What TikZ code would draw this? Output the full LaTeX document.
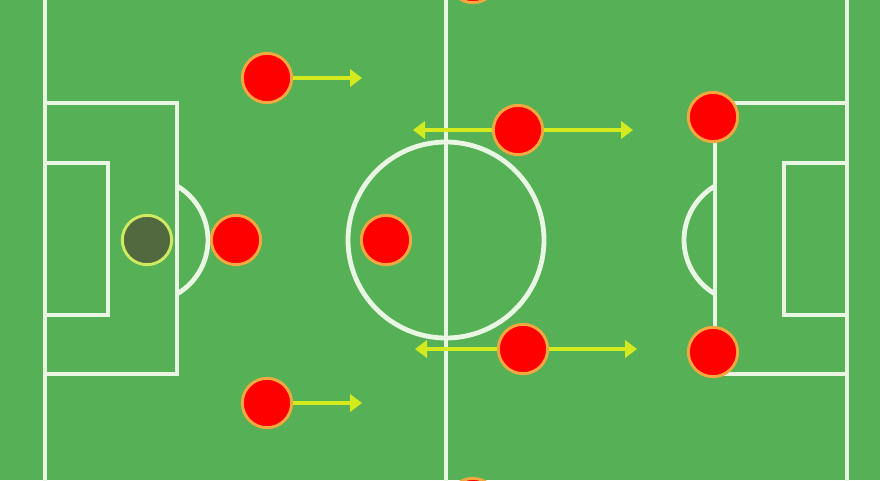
\documentclass[tikz,border=0pt]{standalone}
\usetikzlibrary{arrows.meta}

\definecolor{pitch}{RGB}{86,176,86}
\definecolor{chalk}{RGB}{234,246,228}
\definecolor{kitred}{RGB}{255,0,0}
\definecolor{kitrim}{RGB}{242,168,62}
\definecolor{keeper}{RGB}{82,104,62}
\definecolor{keeprim}{RGB}{206,234,96}
\definecolor{runarrow}{RGB}{210,234,30}

\tikzset{every picture/.style={line width=0.75pt}}
\tikzset{
  pitchline/.style={draw=chalk, line width=3.6pt},
  player/.style={circle, fill=kitred, draw=kitrim, line width=2.2pt, minimum size=37pt, inner sep=0pt},
  goalie/.style={player, fill=keeper, draw=keeprim},
  run/.style={draw=runarrow, line width=3.2pt, -{Triangle[length=9pt,width=13pt]}}
}

\begin{document}
\begin{tikzpicture}[x=0.75pt,y=0.75pt,yscale=-1,xscale=1]
  \useasboundingbox (0,0) rectangle (880,480);
  \clip (0,0) rectangle (880,480);
  %Shape: Rectangle (grass)
  \fill[pitch] (0,0) rectangle (880,480);

  %Straight Lines (touchlines and halfway)
  \draw[pitchline] (45,-10) -- (45,490);
  \draw[pitchline] (847,-10) -- (847,490);
  \draw[pitchline] (446,-10) -- (446,490);
  %Shape: Circle (centre circle)
  \draw[pitchline] (446,240) circle (98);

  %Shape: Rectangle (left penalty box, goal box, arc)
  \draw[pitchline] (45,103) -- (177,103) -- (177,374) -- (45,374);
  \draw[pitchline] (45,163) -- (108,163) -- (108,315) -- (45,315);
  \draw[pitchline] (177,186) arc[start angle=-59.7, end angle=59.7, radius=62.5];
  %Shape: Rectangle (right penalty box, goal box, arc)
  \draw[pitchline] (847,103) -- (715,103) -- (715,374) -- (847,374);
  \draw[pitchline] (847,163) -- (784,163) -- (784,315) -- (847,315);
  \draw[pitchline] (715,186) arc[start angle=239.7, end angle=120.3, radius=62.5];

  % Players
  \node[goalie] (keeper) at (147,240) {};
  \node[player] (backtop) at (267,78) {};
  \node[player] (backmid) at (236,240) {};
  \node[player] (backbot) at (267,403) {};
  \node[player] (pivot) at (386,240) {};
  \node[player] (midtop) at (518,130) {};
  \node[player] (midbot) at (523,349) {};
  \node[player] (fwdtop) at (713,117) {};
  \node[player] (fwdbot) at (713,352) {};
  \node[player] (wingtop) at (473,-22) {};
  \node[player] (wingbot) at (473,503) {};

  % Runs
  \coordinate (backtop run) at (362,78);
  \coordinate (backbot run) at (362,403);
  \coordinate (midtop back) at (413,130);
  \coordinate (midtop fwd) at (633,130);
  \coordinate (midbot back) at (415,349);
  \coordinate (midbot fwd) at (637,349);

  \draw[run] (backtop) -- (backtop run);
  \draw[run] (backbot) -- (backbot run);
  \draw[run] (midtop) -- (midtop back);
  \draw[run] (midtop) -- (midtop fwd);
  \draw[run] (midbot) -- (midbot back);
  \draw[run] (midbot) -- (midbot fwd);

\end{tikzpicture}
\end{document}
